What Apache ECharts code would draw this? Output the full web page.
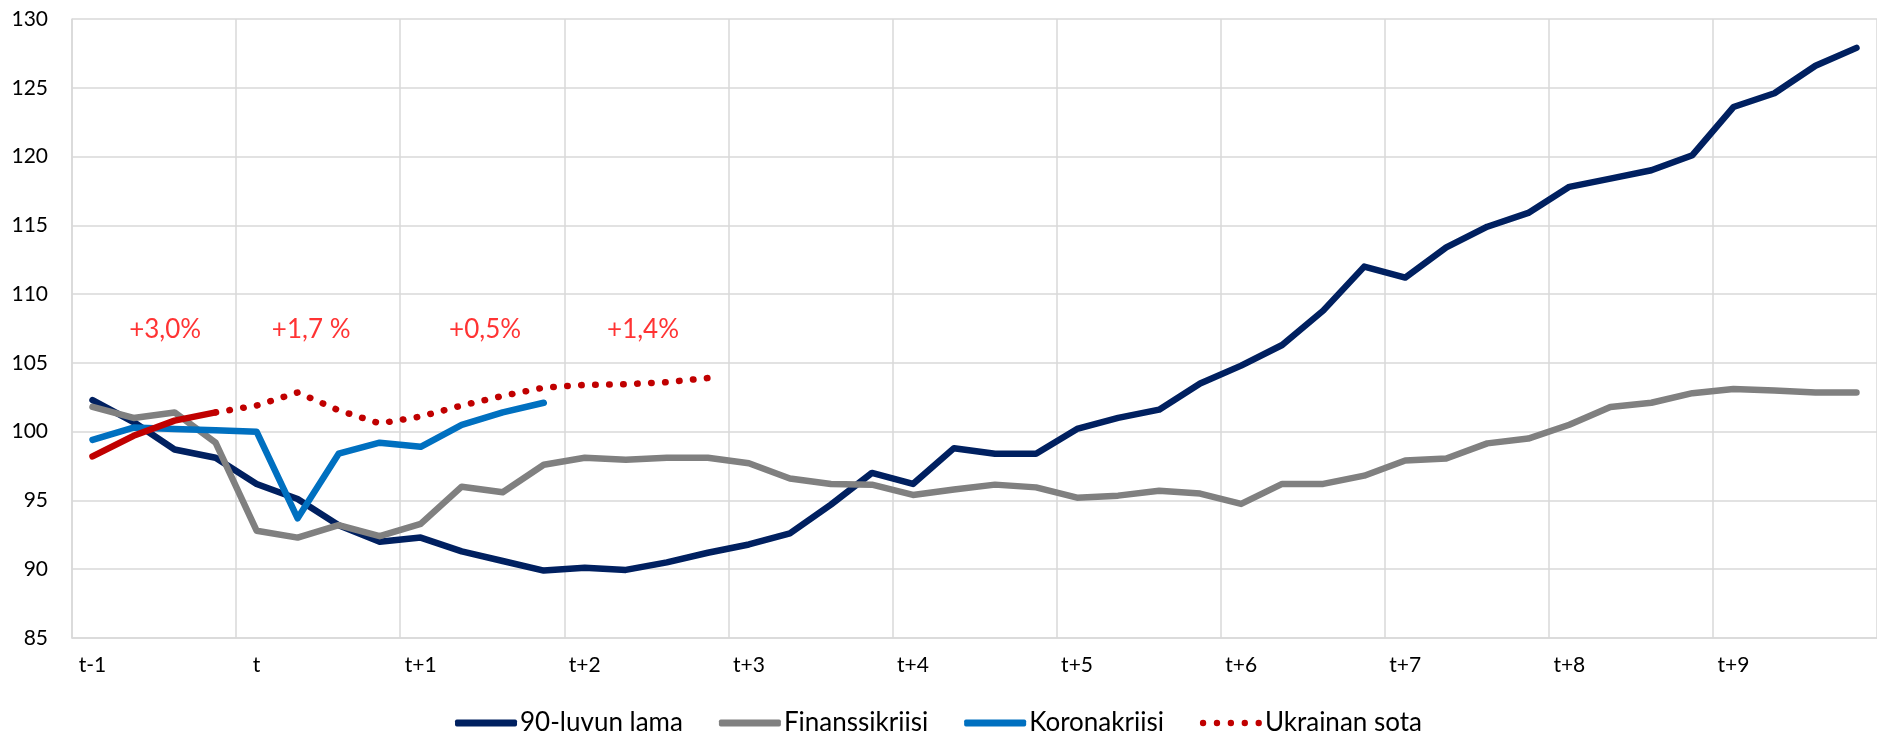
<!DOCTYPE html>
<html>
<head>
<meta charset="utf-8">
<script src="https://cdn.jsdelivr.net/npm/echarts@6/dist/echarts.min.js"></script>
<style>
html,body{margin:0;padding:0;background:#fff;}
#chart{width:1877px;height:733px;}
</style>
</head>
<body>
<div id="chart"></div>
<script>
// ---- data ----
const yearLabels = ['t-1','t','t+1','t+2','t+3','t+4','t+5','t+6','t+7','t+8','t+9'];
const quarters = ['Q1','Q2','Q3','Q4'];

const lama90 = [102.3, 100.7, 98.7, 98.1, 96.2, 95.1, 93.2, 92.0, 92.3, 91.3, 90.6, 89.9,
  90.1, 89.95, 90.5, 91.2, 91.8, 92.6, 94.7, 97.0, 96.2, 98.8, 98.4, 98.4,
  100.2, 101.0, 101.6, 103.5, 104.8, 106.3, 108.8, 112.0, 111.2, 113.4, 114.9, 115.9,
  117.8, 118.4, 119.0, 120.1, 123.6, 124.6, 126.6, 127.9];
const finanssi = [101.8, 101.0, 101.4, 99.2, 92.8, 92.3, 93.2, 92.4, 93.3, 96.0, 95.6, 97.6,
  98.1, 97.95, 98.1, 98.1, 97.7, 96.6, 96.2, 96.15, 95.4, 95.8, 96.15, 95.95,
  95.2, 95.35, 95.7, 95.5, 94.75, 96.2, 96.2, 96.8, 97.9, 98.05, 99.15, 99.5,
  100.5, 101.8, 102.1, 102.8, 103.1, 103.0, 102.85, 102.85];
const korona = [99.4, 100.3, 100.2, 100.1, 100.0, 93.7, 98.4, 99.2, 98.9, 100.5, 101.4, 102.1];
const ukrActual = [98.2, 99.7, 100.8, 101.4];
const ukrForecastStart = 3; // quarter index where forecast starts
const ukrForecast = [101.4, 101.9, 102.85, 101.55, 100.6, 101.1, 101.9, 102.6, 103.2, 103.4, 103.45, 103.6, 103.9];

const annoLabels = ['+3,0%', '+1,7 %', '+0,5%', '+1,4%'];
const annoX = [2.27, 5.83, 10.07, 13.92]; // in quarters from left edge
const annoY = [107.4, 107.4, 107.4, 107.4];

const yTicks = {min: 85, max: 130, interval: 5};

// ---- build ----
const categories = [];
yearLabels.forEach(y => quarters.forEach(q => categories.push(y + ' ' + q)));

const fcData = categories.map((c, i) => {
  const k = i - ukrForecastStart;
  return (k >= 0 && k < ukrForecast.length) ? ukrForecast[k] : null;
});

const FONT = 'Lato';
const chart = echarts.init(document.getElementById('chart'), null, {renderer: 'canvas'});
const lineW = 6.5;

function dotsPath(n, r, gap) {
  let p = '';
  for (let i = 0; i < n; i++) {
    const cx = r + i * gap;
    p += 'M' + (cx - r) + ',' + r + 'a' + r + ',' + r + ' 0 1,0 ' + (2 * r) + ',0a' + r + ',' + r + ' 0 1,0 ' + (-2 * r) + ',0';
  }
  return 'path://' + p;
}

chart.setOption({
  animation: false,
  textStyle: {fontFamily: FONT},
  grid: {left: 72, right: 0, top: 19, bottom: 95, containLabel: false},
  xAxis: [{
    type: 'category',
    data: categories,
    boundaryGap: true,
    axisLine: {show: true, lineStyle: {color: '#d9d9d9', width: 1.5}},
    axisTick: {show: false},
    axisLabel: {
      interval: 3, color: '#000', fontSize: 21, fontFamily: FONT, margin: 17,
      formatter: v => v.split(' ')[0]
    },
    splitLine: {show: true, interval: 3, lineStyle: {color: '#d9d9d9', width: 1.5}}
  }, {
    type: 'value', min: 0, max: categories.length, show: false
  }],
  yAxis: {
    type: 'value',
    min: yTicks.min, max: yTicks.max, interval: yTicks.interval,
    axisLine: {show: true, lineStyle: {color: '#d9d9d9', width: 1.5}},
    axisTick: {show: false},
    axisLabel: {color: '#000', fontSize: 21, fontFamily: FONT, margin: 24},
    splitLine: {show: true, lineStyle: {color: '#d9d9d9', width: 1.5}}
  },
  legend: {
    data: [
      {name: '90-luvun lama', icon: 'roundRect'},
      {name: 'Finanssikriisi', icon: 'roundRect'},
      {name: 'Koronakriisi', icon: 'roundRect'},
      {name: 'Ukrainan sota', icon: dotsPath(5, 3.2, 14)}
    ],
    top: 705,
    left: 'center',
    itemWidth: 62,
    itemHeight: 7,
    itemGap: 36,
    textStyle: {fontSize: 26, color: '#000', fontFamily: FONT, padding: [0, 0, 0, -2]}
  },
  series: [
    {name: '90-luvun lama', type: 'line', data: lama90, symbol: 'none',
     lineStyle: {color: '#002060', width: lineW, cap: 'round', join: 'round'}, itemStyle: {color: '#002060'}},
    {name: 'Finanssikriisi', type: 'line', data: finanssi, symbol: 'none',
     lineStyle: {color: '#808080', width: lineW, cap: 'round', join: 'round'}, itemStyle: {color: '#808080'}},
    {name: 'Koronakriisi', type: 'line', data: korona, symbol: 'none',
     lineStyle: {color: '#0070c0', width: lineW, cap: 'round', join: 'round'}, itemStyle: {color: '#0070c0'}},
    {name: 'Ukrainan sota', type: 'line', data: fcData, symbol: 'none',
     lineStyle: {color: '#c00000', width: lineW, type: [0.5, 13.5], cap: 'round'}, itemStyle: {color: '#c00000'}},
    {name: 'Ukrainan sota (toteutunut)', type: 'line', data: ukrActual, symbol: 'none',
     lineStyle: {color: '#c00000', width: lineW, cap: 'round', join: 'round'}, itemStyle: {color: '#c00000'}},
    {name: 'annotations', type: 'scatter', xAxisIndex: 1, symbolSize: 0,
     data: annoLabels.map((t, i) => ({value: [annoX[i], annoY[i]], label: {formatter: t}})),
     label: {show: true, position: 'inside', color: '#ff0000', fontSize: 26, fontFamily: FONT},
     silent: true}
  ]
});
</script>
</body>
</html>
